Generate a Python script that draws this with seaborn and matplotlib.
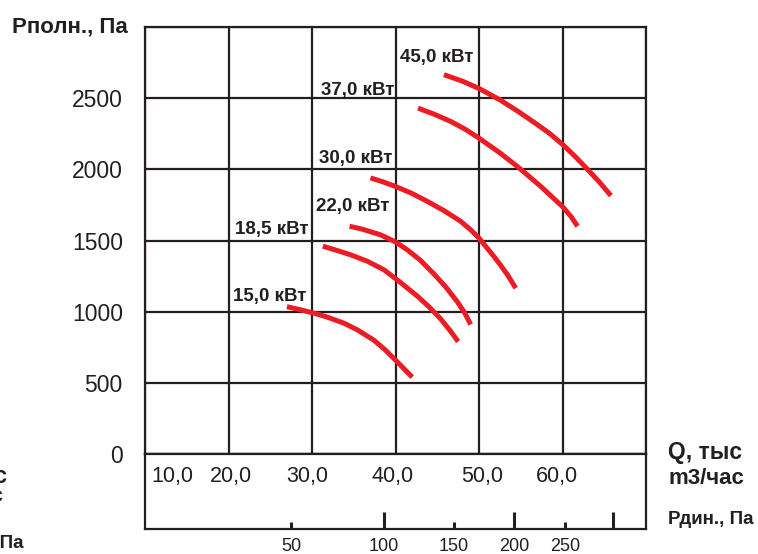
import matplotlib
matplotlib.use("Agg")
import matplotlib.pyplot as plt
import seaborn as sns
import pandas as pd

# Fan curves: total pressure (Pa) vs. airflow (thousand m3/h) for each motor power
q_15 = [27.0, 28.5, 30.2, 31.5, 33.8, 35.5, 37.4, 38.7, 40.0, 41.0, 42.0]
p_15 = [1035, 1015, 990, 968, 920, 870, 800, 735, 660, 600, 540]
q_185 = [31.3, 33.0, 34.6, 36.6, 38.6, 40.6, 42.6, 44.0, 45.4, 46.5, 47.5]
p_185 = [1460, 1430, 1400, 1355, 1295, 1205, 1110, 1035, 950, 870, 790]
q_22 = [34.5, 36.0, 38.2, 40.0, 41.4, 43.0, 44.6, 46.0, 47.4, 48.3, 49.0]
p_22 = [1600, 1580, 1540, 1490, 1435, 1360, 1265, 1175, 1070, 990, 910]
q_30 = [37.0, 38.5, 40.0, 42.0, 43.8, 45.8, 47.8, 49.0, 50.0, 51.8, 52.6, 53.4, 54.4]
p_30 = [1940, 1912, 1880, 1830, 1775, 1710, 1635, 1575, 1517, 1387, 1325, 1260, 1165]
q_37 = [42.7, 44.6, 46.6, 48.4, 50.1, 52.4, 54.6, 57.4, 60.0, 61.0, 61.8]
p_37 = [2430, 2388, 2337, 2280, 2215, 2120, 2020, 1880, 1738, 1670, 1600]
q_45 = [45.8, 48.0, 50.1, 52.6, 54.6, 56.6, 58.4, 60.1, 61.6, 63.0, 64.5, 65.8]
p_45 = [2665, 2620, 2565, 2485, 2410, 2330, 2255, 2170, 2085, 2000, 1905, 1815]

power_labels = ["15,0 кВт", "18,5 кВт", "22,0 кВт", "30,0 кВт", "37,0 кВт", "45,0 кВт"]
# label anchor (Q, P) for each curve name
label_q = [20.5, 20.8, 30.5, 30.8, 31.1, 40.5]
label_p = [1078, 1547, 1704, 2044, 2524, 2756]

# axis scales
y_ticks = [0, 500, 1000, 1500, 2000, 2500, 3000]
y_ticklabels = ["0", "500", "1000", "1500", "2000", "2500", ""]
q_grid = [10, 20, 30, 40, 50, 60, 70]
q_labels = ["10,0", "20,0", "30,0", "40,0", "50,0", "60,0"]
q_label_at = [10, 20, 30, 40, 50, 60]
# dynamic pressure scale (Pa) and where it falls on the Q axis
pdyn_values = [50, 100, 150, 200, 250, 300]
pdyn_q = [27.5, 38.6, 47.0, 54.2, 60.3, 66.0]
pdyn_labels = ["50", "100", "150", "200", "250", ""]

curves = [(q_15, p_15), (q_185, p_185), (q_22, p_22),
          (q_30, p_30), (q_37, p_37), (q_45, p_45)]
rows = []
for name, (qs, ps) in zip(power_labels, curves):
    for q, p in zip(qs, ps):
        rows.append({"power": name, "Q": q, "P": p})
df = pd.DataFrame(rows)

sns.set_theme(style="white")
plt.rcParams["font.family"] = ["Liberation Sans", "DejaVu Sans"]

INK = "#231f20"
RED = "#ed1c24"
W, H = 758, 554

fig = plt.figure(figsize=(W / 100, H / 100), dpi=100)
fig.patch.set_facecolor("white")

ax = fig.add_axes([145 / W, 100 / H, 501 / W, 427 / H])
sns.lineplot(data=df, x="Q", y="P", hue="power", palette=[RED] * 6,
             sort=False, estimator=None, linewidth=3.6, legend=False, ax=ax,
             solid_capstyle="butt", solid_joinstyle="round")
ax.set_xlim(10, 70)
ax.set_ylim(0, 3000)
ax.set_xticks(q_grid)
ax.set_yticks(y_ticks)
ax.set_yticklabels(y_ticklabels)
ax.tick_params(axis="x", length=0, labelbottom=False)
ax.tick_params(axis="y", length=0, pad=16, labelsize=16.5, labelcolor=INK)
ax.set_xlabel("")
ax.set_ylabel("")
ax.grid(True, color=INK, linewidth=1.6)
ax.set_axisbelow(True)
for s in ax.spines.values():
    s.set_visible(True)
    s.set_color(INK)
    s.set_linewidth(1.6)

for txt, q, p in zip(power_labels, label_q, label_p):
    ax.text(q, p, txt, ha="left", va="baseline", fontsize=13.5,
            fontweight="bold", color=INK)

# lower strip with flow labels and dynamic-pressure scale
ax2 = fig.add_axes([145 / W, 25 / H, 501 / W, 75 / H])
ax2.set_xlim(10, 70)
ax2.set_ylim(0, 75)
ax2.set_xticks([])
ax2.set_yticks([])
for s in ax2.spines.values():
    s.set_visible(True)
    s.set_color(INK)
    s.set_linewidth(1.6)

q_offsets = [27, 2, -5, -3, 3, -6]
for lab, q, dx in zip(q_labels, q_label_at, q_offsets):
    ax2.annotate(lab, (q, 52.3), xytext=(dx * 0.72, 0), textcoords="offset points",
                 ha="center", va="center", fontsize=15.5, color=INK)

for val, q, lab in zip(pdyn_values, pdyn_q, pdyn_labels):
    tall = (val % 100 == 0)
    ax2.vlines(q, 0, 17 if tall else 7, color=INK, linewidth=2.2)
    if lab:
        ax2.text(q, -17.7, lab, ha="center", va="center", fontsize=13,
                 color=INK, clip_on=False)

# axis captions
fig.text(12 / W, 1 - 32 / H, "Рполн., Па", ha="left", va="baseline",
         fontsize=16, fontweight="bold", color=INK)
fig.text(668 / W, 1 - 452 / H, "Q, тыс", ha="left", va="center",
         fontsize=16.5, fontweight="bold", color=INK)
fig.text(668 / W, 1 - 478 / H, "m3/час", ha="left", va="center",
         fontsize=16, fontweight="bold", color=INK)
fig.text(668 / W, 1 - 519 / H, "Рдин., Па", ha="left", va="center",
         fontsize=13.5, fontweight="bold", color=INK)
# neighbouring panel captions running off the left edge
fig.text(7 / W, 1 - 476 / H, "Q, тыс", ha="right", va="center",
         fontsize=16.5, fontweight="bold", color=INK)
fig.text(3 / W, 1 - 496 / H, "m3/час", ha="right", va="center",
         fontsize=16, fontweight="bold", color=INK)
fig.text(23 / W, 1 - 544 / H, "Рдин., Па", ha="right", va="center",
         fontsize=13.5, fontweight="bold", color=INK)

fig.savefig("out.png", dpi=100, facecolor="white")
